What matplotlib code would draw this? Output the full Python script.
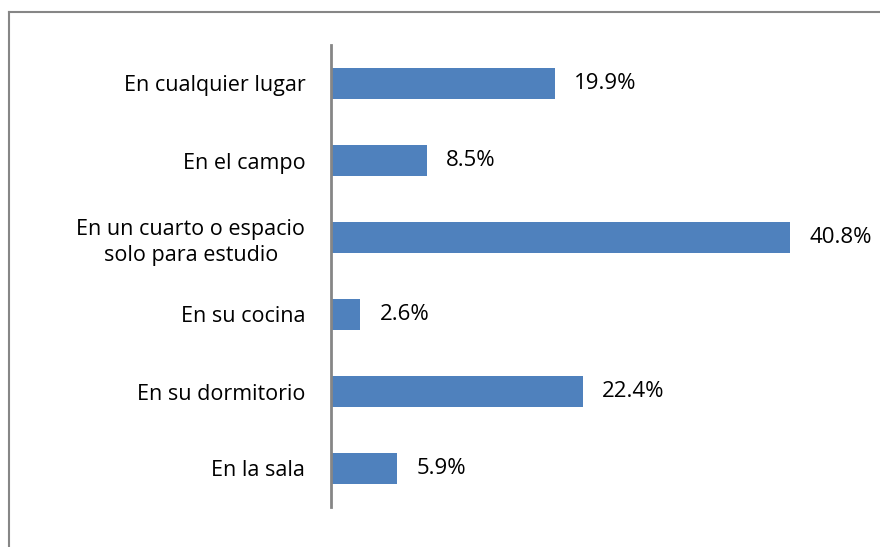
import matplotlib.pyplot as plt
from matplotlib.lines import Line2D

categorias = ["En cualquier lugar", "En el campo",
              "En un cuarto o espacio\nsolo para estudio",
              "En su cocina", "En su dormitorio", "En la sala"]
valores = [19.9, 8.5, 40.8, 2.6, 22.4, 5.9]
etiquetas = ["19.9%", "8.5%", "40.8%", "2.6%", "22.4%", "5.9%"]

plt.rcParams['font.family'] = ['Open Sans', 'DejaVu Sans']

fig = plt.figure(figsize=(8.8, 5.47), dpi=100)
ax = fig.add_axes([331/880, 40/547, 540/880, 462/547])

pos = list(range(len(categorias)))[::-1]
ax.barh(pos, valores, height=0.39, color='#4F81BD')
for p, v, t in zip(pos, valores, etiquetas):
    ax.text(v + 1.7, p, t, va='center', ha='left', fontsize=16, color='black')

ax.set_xlim(0, 48)
ax.set_ylim(-0.5, 5.5)
ax.set_yticks(pos)
ax.set_yticklabels(categorias, fontsize=15.5, ha='right', multialignment='center',
                   linespacing=1.3)
ax.tick_params(axis='y', length=0, pad=18.5)
ax.set_xticks([])
for s in ['top', 'right', 'bottom']:
    ax.spines[s].set_visible(False)
ax.spines['left'].set_color('#868686')
ax.spines['left'].set_linewidth(2)

# marco exterior (solo se ven arriba e izquierda)
fig.add_artist(Line2D([9/880, 9/880], [0, 1 - 12/547], transform=fig.transFigure,
                      color='#868686', lw=1.5))
fig.add_artist(Line2D([9/880, 1], [1 - 12/547, 1 - 12/547], transform=fig.transFigure,
                      color='#868686', lw=1.5))

fig.savefig('out.png', dpi=100)
